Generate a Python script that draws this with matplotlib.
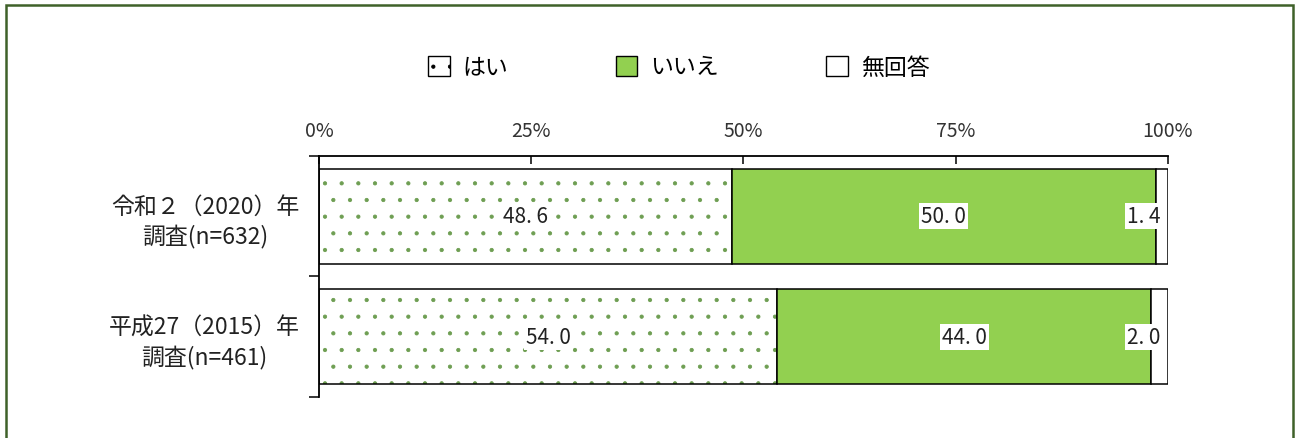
import matplotlib
matplotlib.use("Agg")
import matplotlib.pyplot as plt
import matplotlib.patches as patches
import numpy as np

plt.rcParams['font.family'] = ['Noto Sans CJK JP', 'DejaVu Sans']

# データ
categories = ["令和２（2020）年\n調査(n=632)", "平成27（2015）年\n調査(n=461)"]
series_names = ["はい", "いいえ", "無回答"]
hai = [48.6, 54.0]
iie = [50.0, 44.0]
mukaitou = [1.4, 2.0]
xticks = [0, 25, 50, 75, 100]
xtick_labels = ["0%", "25%", "50%", "75%", "100%"]

green = "#92D050"
dot_green = "#6E9E52"
frame_green = "#3F6129"

fig = plt.figure(figsize=(12.95, 4.39), dpi=100)
ax = fig.add_axes([0.2463, 0.0934, 0.6556, 0.549])

plt.rcParams['hatch.linewidth'] = 0.6
y = np.arange(len(categories))
h = 0.79
left = np.zeros(len(categories))

# はい: 点描ハッチ
ax.barh(y, hai, left=left, height=h, color="white", edgecolor=dot_green,
        hatch=".", linewidth=0)
ax.barh(y, hai, left=left, height=h, fill=False, edgecolor="black", linewidth=1.1)
left = left + np.array(hai)
ax.barh(y, iie, left=left, height=h, color=green, edgecolor="black", linewidth=1.1)
left = left + np.array(iie)
ax.barh(y, mukaitou, left=left, height=h, color="white", edgecolor="black", linewidth=1.1)

# 値ラベル
box = dict(facecolor="white", edgecolor="none", pad=1.5)
starts = np.zeros(len(categories))
for vals, is_last in [(hai, False), (iie, False), (mukaitou, True)]:
    for i, v in enumerate(vals):
        txt = f"{v:.1f}".replace(".", ". ")
        if is_last:
            ax.text(starts[i] + v - 0.9, i, txt, ha="right", va="center",
                    fontsize=15, color="#222222", bbox=box)
        else:
            ax.text(starts[i] + v / 2, i, txt, ha="center", va="center",
                    fontsize=15, color="#222222", bbox=box)
    starts = starts + np.array(vals)

ax.set_xlim(0, 100)
ax.set_ylim(len(categories) - 0.5, -0.5)

ax.xaxis.tick_top()
ax.set_xticks(xticks)
ax.set_xticklabels(xtick_labels)
ax.tick_params(axis="x", direction="in", length=6, width=1.1, pad=11,
               labelsize=14, labelcolor="#333333")

ax.set_yticks(y)
ax.set_yticklabels(categories)
ax.tick_params(axis="y", which="major", length=0, pad=14, labelsize=16.5,
               labelcolor="#222222")
for lbl in ax.get_yticklabels():
    lbl.set_multialignment("center")
    lbl.set_linespacing(1.35)
ax.set_yticks(np.arange(len(categories) + 1) - 0.5, minor=True)
ax.tick_params(axis="y", which="minor", direction="out", length=7, width=1.1)

for side in ["right", "bottom"]:
    ax.spines[side].set_visible(False)
for side in ["top", "left"]:
    ax.spines[side].set_linewidth(1.3)

# 凡例
handles = [
    patches.Patch(facecolor="white", edgecolor="black", hatch="."),
    patches.Patch(facecolor=green, edgecolor="black"),
    patches.Patch(facecolor="white", edgecolor="black"),
]
leg = fig.legend(handles, series_names, loc="center", bbox_to_anchor=(0.524, 0.845),
                 ncol=3, frameon=False, fontsize=16.5, handlelength=0.95,
                 handleheight=0.95, handletextpad=0.55, columnspacing=4.7)

# 枠線
frame = patches.Rectangle((6 / 1295, -0.05), 1287 / 1295, 1.05 - 6 / 439,
                          transform=fig.transFigure, fill=False,
                          edgecolor=frame_green, linewidth=1.8)
fig.patches.append(frame)

fig.savefig("out.png", dpi=100)
